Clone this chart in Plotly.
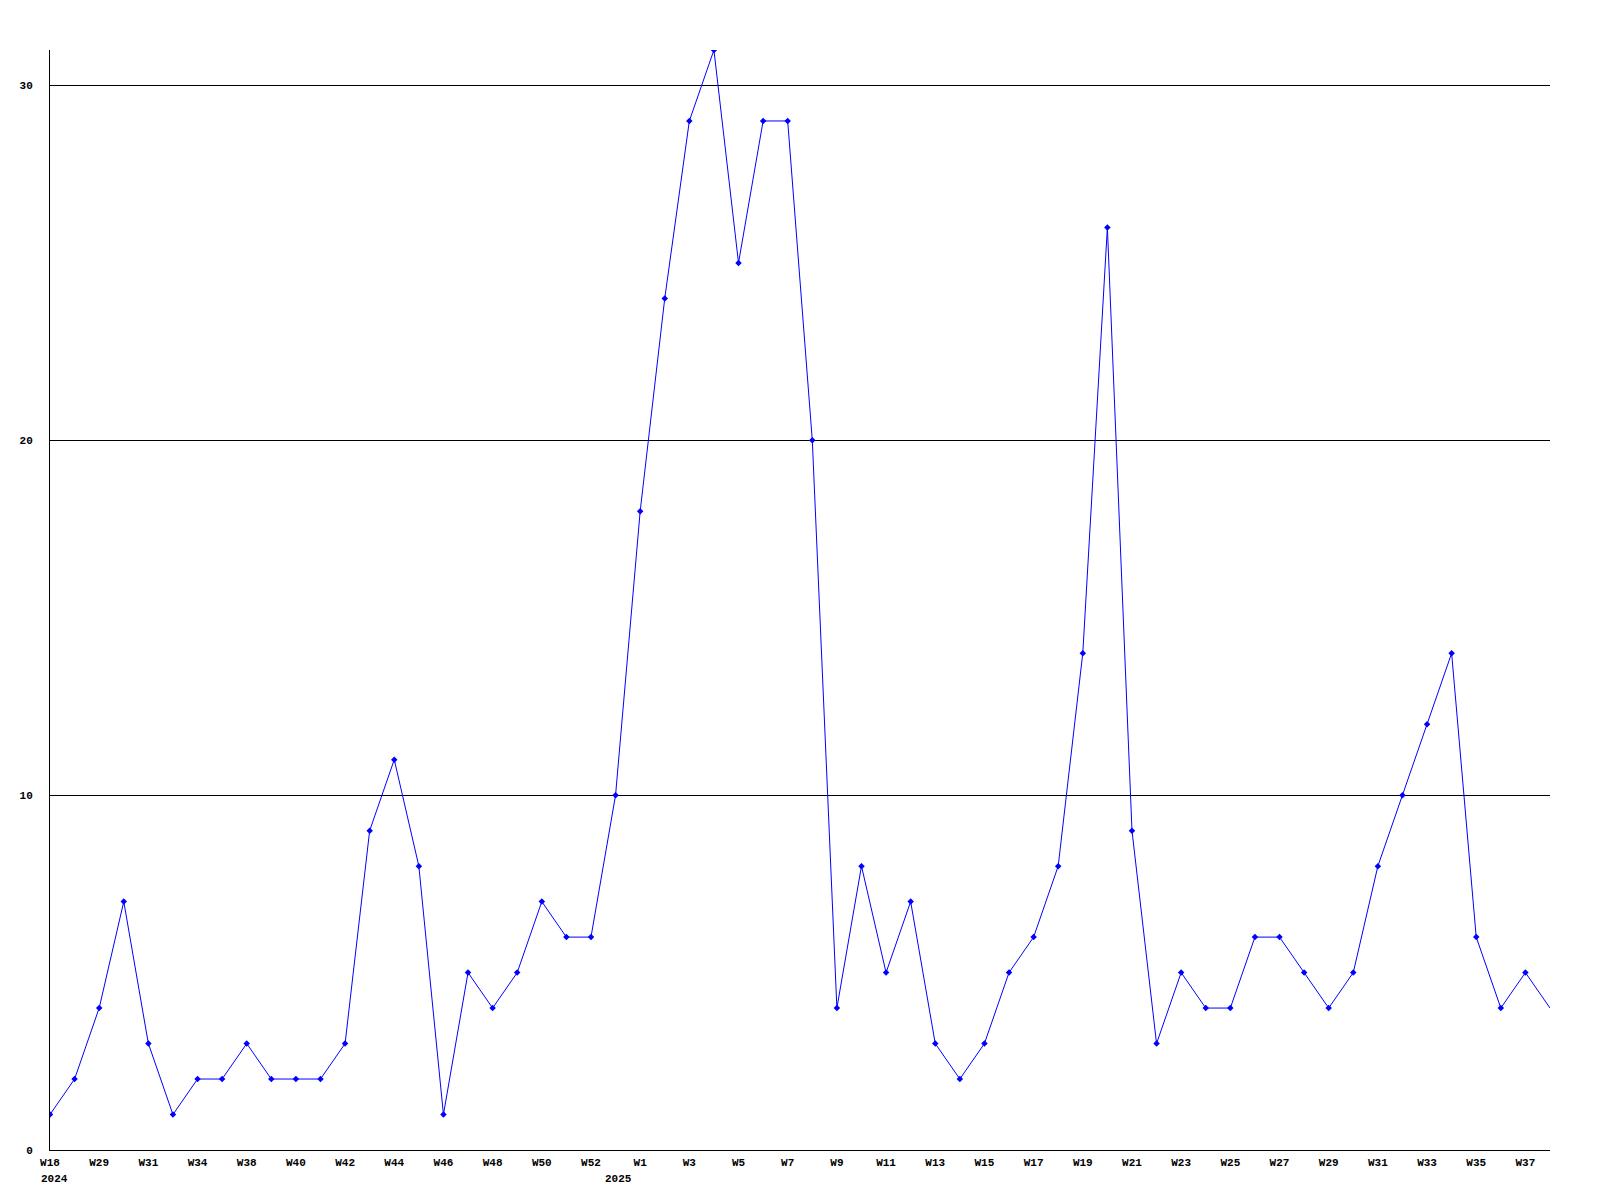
import plotly.graph_objects as go

categories = [
    "2024-W18", "2024-W28", "2024-W29", "2024-W30", "2024-W31", "2024-W32", "2024-W34", "2024-W36",
    "2024-W38", "2024-W39", "2024-W40", "2024-W41", "2024-W42", "2024-W43", "2024-W44", "2024-W45",
    "2024-W46", "2024-W47", "2024-W48", "2024-W49", "2024-W50", "2024-W51", "2024-W52", "2024-W53",
    "2025-W1", "2025-W2", "2025-W3", "2025-W4", "2025-W5", "2025-W6", "2025-W7", "2025-W8",
    "2025-W9", "2025-W10", "2025-W11", "2025-W12", "2025-W13", "2025-W14", "2025-W15", "2025-W16",
    "2025-W17", "2025-W18", "2025-W19", "2025-W20", "2025-W21", "2025-W22", "2025-W23", "2025-W24",
    "2025-W25", "2025-W26", "2025-W27", "2025-W28", "2025-W29", "2025-W30", "2025-W31", "2025-W32",
    "2025-W33", "2025-W34", "2025-W35", "2025-W36", "2025-W37", "2025-W38",
]
values = [
    1, 2, 4, 7, 3, 1, 2, 2,
    3, 2, 2, 2, 3, 9, 11, 8,
    1, 5, 4, 5, 7, 6, 6, 10,
    18, 24, 29, 31, 25, 29, 29, 20,
    4, 8, 5, 7, 3, 2, 3, 5,
    6, 8, 14, 26, 9, 3, 5, 4,
    4, 6, 6, 5, 4, 5, 8, 10,
    12, 14, 6, 4, 5, 4,
]
tick_labels = [c.split("-")[1] for c in categories]
year_labels = ["2024", "2025"]
year_anchor_cats = ["2024-W18", "2024-W53"]
y_ticks = [0, 10, 20, 30]

font = dict(family="Liberation Mono, DejaVu Sans Mono, monospace", size=11, color="black", weight="bold")

fig = go.Figure()
fig.add_trace(go.Scatter(
    x=categories[:-1], y=values[:-1], mode="lines+markers",
    line=dict(color="#0000ff", width=1),
    marker=dict(symbol="diamond", size=5, color="#0000ff"),
    showlegend=False, hoverinfo="x+y",
))
fig.add_trace(go.Scatter(
    x=categories[-2:], y=values[-2:], mode="lines",
    line=dict(color="#0000ff", width=1), showlegend=False, hoverinfo="skip",
))

fig.add_annotation(x=year_anchor_cats[0], y=0, xref="x", yref="y", text=year_labels[0], showarrow=False,
                   xanchor="left", yanchor="top", xshift=-11, yshift=-21, font=font)
fig.add_annotation(x=year_anchor_cats[1], y=0, xref="x", yref="y", text=year_labels[1], showarrow=False,
                   xanchor="center", yanchor="top", xshift=3, yshift=-21, font=font)

fig.update_layout(
    width=1584, height=1184,
    margin=dict(l=42, r=42, t=42, b=42),
    paper_bgcolor="white", plot_bgcolor="white",
    font=font,
    xaxis=dict(
        type="category", categoryorder="array", categoryarray=categories,
        range=[0, len(categories) - 1],
        tickmode="array", tickvals=categories[::2], ticktext=tick_labels[::2],
        showgrid=False, zeroline=False,
        showline=True, linecolor="black", linewidth=1,
        ticks="", tickfont=font, ticklabelstandoff=2,
    ),
    yaxis=dict(
        range=[0, 31], tickmode="array", tickvals=y_ticks,
        showgrid=True, gridcolor="black", gridwidth=1,
        zeroline=False, showline=True, linecolor="black", linewidth=1,
        ticks="", tickfont=font, ticklabelstandoff=14,
    ),
)

fig.write_html("out.html")
